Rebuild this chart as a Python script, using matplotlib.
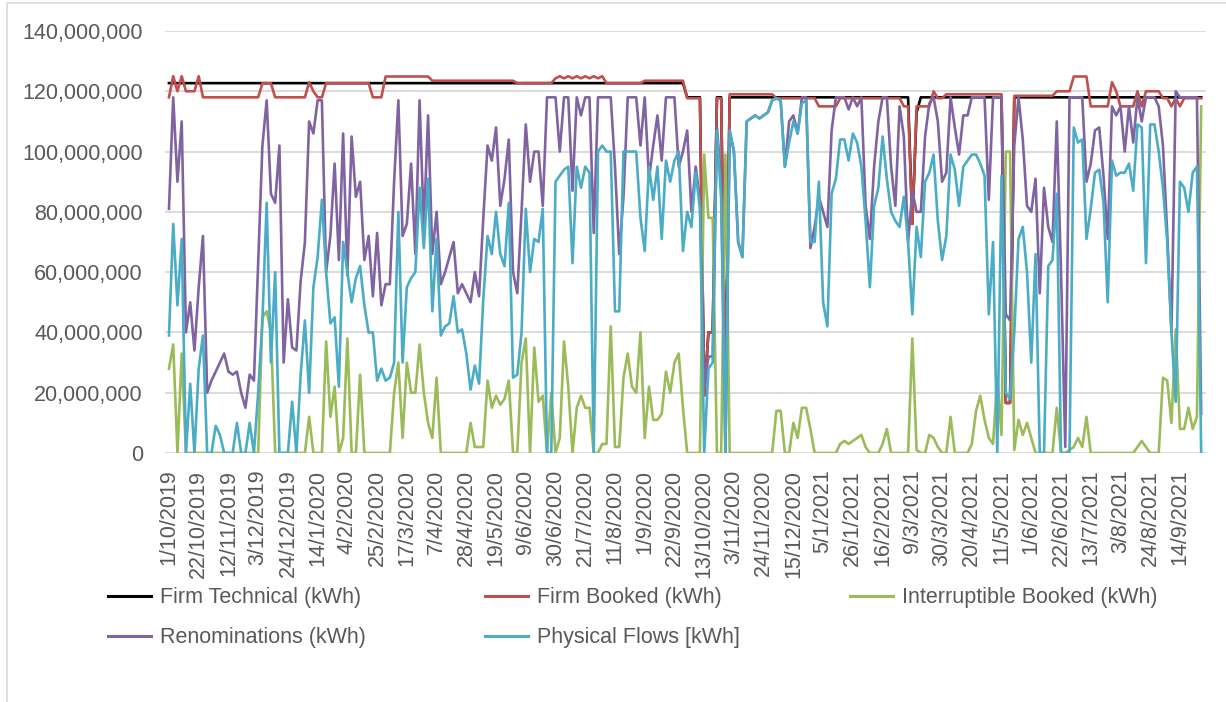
import numpy as np
import pandas as pd
import matplotlib
matplotlib.use("Agg")
import matplotlib.pyplot as plt
from matplotlib.lines import Line2D
from matplotlib.patches import Rectangle
from matplotlib.ticker import FuncFormatter

plt.rcParams['font.family'] = ['Liberation Sans', 'DejaVu Sans']

start = "2019-10-01"

renominations = [
    81, 118, 90, 110, 40, 50, 34, 55, 72, 20,
    24, 27, 30, 33, 27, 26, 27, 20, 15, 26,
    24, 63, 102, 117, 86, 83, 102, 30, 51, 35,
    34, 57, 70, 110, 106, 117, 117, 60, 72, 96,
    64, 106, 59, 105, 85, 90, 64, 72, 52, 73,
    49, 56, 56, 90, 117, 72, 76, 96, 66, 117,
    75, 112, 66, 80, 56, 60, 65, 70, 53, 56,
    53, 50, 60, 52, 78, 102, 97, 108, 82, 91,
    104, 60, 53, 80, 109, 90, 100, 100, 82, 118,
    118, 118, 100, 118, 118, 87, 118, 112, 118, 118,
    73, 118, 118, 118, 118, 95, 66, 85, 118, 118,
    118, 102, 118, 91, 102, 112, 97, 118, 118, 118,
    95, 100, 107, 80, 95, 84, 22, 32, 32, 108,
    90, 0, 107, 100, 70, 65, 110, 111, 112, 111,
    112, 113, 117, 117.7, 117, 95, 110, 112, 106, 118,
    118, 68, 75, 85, 80, 75, 107, 118, 118, 118,
    114, 118, 115, 118, 82, 71, 95, 110, 118, 118,
    95, 82, 115, 105, 70, 87, 80, 80, 105, 116,
    118, 110, 90, 93, 118, 108, 99, 112, 112, 118,
    118, 118, 118, 84, 118, 118, 118, 46, 44, 102,
    118, 104, 82, 80, 91, 53, 88, 75, 70, 110,
    60, 2, 118, 118, 118, 118, 90, 96, 107, 108,
    92, 71, 115, 112, 115, 100, 115, 103, 118, 110,
    118, 118, 118, 115, 102, 73, 40, 120, 118, 118,
    118, 118, 118, 13]

flows = [
    39, 76, 49, 71, 0, 23, 0, 28, 39, 0,
    0, 9, 6, 0, 0, 0, 10, 0, 0, 10,
    0, 20, 44, 83, 30, 60, 0, 0, 0, 17,
    0, 26, 44, 20, 55, 65, 84, 60, 43, 45,
    22, 70, 60, 50, 58, 62, 49, 40, 40, 24,
    28, 24, 25, 30, 80, 30, 55, 58, 60, 88,
    68, 91, 47, 71, 39, 42, 43, 52, 40, 41,
    33, 21, 29, 23, 51, 72, 66, 80, 66, 62,
    83, 25, 26, 40, 81, 60, 71, 70, 81, 0,
    0, 90, 92, 94, 95, 63, 95, 88, 95, 93,
    0, 100, 102, 100, 100, 47, 47, 100, 100, 100,
    100, 78, 67, 95, 84, 95, 71, 97, 90, 97,
    100, 67, 80, 75, 93, 81, 0, 28, 30, 107,
    84, 0, 107, 100, 70, 65, 110, 111, 112, 111,
    112, 113, 117, 117.7, 117, 95, 103, 110, 106, 116,
    117, 70, 70, 90, 50, 42, 86, 91, 104, 104,
    97, 106, 103, 95, 77, 55, 82, 88, 105, 91,
    80, 77, 75, 85, 70, 46, 75, 65, 90, 93,
    99, 77, 64, 72, 99, 94, 82, 95, 97, 99,
    99, 96, 92, 46, 70, 0, 92, 20, 18, 40,
    71, 75, 60, 30, 66, 0, 0, 62, 64, 86,
    0, 0, 0, 108, 103, 104, 71, 81, 93, 94,
    83, 50, 97, 92, 93, 93, 96, 87, 109, 108,
    63, 109, 109, 100, 88, 70, 40, 17, 90, 88,
    80, 93, 95, 0]

interruptible = [
    28, 36, 0, 33, 0, 0, 0, 0, 0, 0,
    0, 0, 0, 0, 0, 0, 0, 0, 0, 0,
    0, 0, 45, 47, 40, 0, 0, 0, 0, 0,
    0, 0, 0, 12, 0, 0, 0, 37, 12, 22,
    0, 5, 38, 0, 0, 26, 0, 0, 0, 0,
    0, 0, 0, 20, 30, 5, 30, 20, 20, 36,
    20, 10, 5, 25, 0, 0, 0, 0, 0, 0,
    0, 10, 2, 2, 2, 24, 15, 19, 16, 18,
    24, 0, 0, 30, 38, 0, 35, 17, 19, 0,
    20, 0, 5, 37, 22, 0, 15, 19, 15, 15,
    0, 0, 3, 3, 42, 2, 2, 25, 33, 22,
    20, 40, 5, 22, 11, 11, 13, 27, 20, 30,
    33, 15, 0, 0, 0, 0, 99, 78, 78, 0,
    0, 99, 0, 0, 0, 0, 0, 0, 0, 0,
    0, 0, 0, 14, 14, 0, 0, 10, 5, 15,
    15, 8, 0, 0, 0, 0, 0, 0, 3, 4,
    3, 4, 5, 6, 2, 0, 0, 0, 3, 8,
    0, 0, 0, 0, 0, 38, 1, 0, 0, 6,
    5, 2, 0, 0, 12, 0, 0, 0, 0, 3,
    14, 19, 11, 5, 3, 25, 6, 100, 100, 1,
    11, 6, 10, 5, 0, 0, 0, 0, 0, 15,
    0, 0, 1, 2, 5, 2, 12, 0, 0, 0,
    0, 0, 0, 0, 0, 0, 0, 0, 2, 4,
    2, 0, 0, 0, 25, 24, 10, 41, 8, 8,
    15, 8, 12, 115]

# flat capacity series as (number of points, value) runs
booked_runs = [(1, 118), (1, 125), (1, 120), (1, 125), (3, 120), (1, 125), (14, 118),
               (3, 122.7), (8, 118), (1, 123), (1, 120), (2, 118), (11, 122.7), (3, 118),
               (11, 124.9), (20, 123.5), (9, 122.7),
               (1, 124.3), (1, 125), (1, 124.3), (1, 125), (1, 124.3), (1, 125),
               (1, 124.3), (1, 125), (1, 124.3), (1, 125), (1, 124.3), (1, 125),
               (9, 122.7), (10, 123.5), (4, 117.7), (1, 19), (2, 40), (2, 117.7), (1, 19),
               (11, 119), (10, 117.7), (5, 115), (15, 117.7), (2, 115), (1, 76), (4, 115),
               (1, 120), (2, 117.7), (14, 119), (2, 16.6), (10, 118.5), (4, 120),
               (4, 124.9), (5, 115), (1, 123), (1, 120), (4, 115), (1, 120), (1, 115),
               (4, 120), (2, 117.7), (1, 115), (1, 117.7), (1, 115), (5, 117.7)]

technical_runs = [(122, 122.7), (4, 118), (1, 19), (2, 40), (2, 118), (1, 19), (43, 118),
                  (1, 76), (1, 113), (20, 118), (2, 16.6), (45, 118)]


def expand(runs):
    out = []
    for n, v in runs:
        out += [v] * n
    return out


technical = expand(technical_runs)
booked = expand(booked_runs)
print(len(renominations), len(flows), len(interruptible), len(booked), len(technical))

dates = pd.date_range(start, periods=len(renominations), freq="3D")
tick_dates = pd.date_range("2019-10-01", "2021-09-14", freq="21D")

series = [
    ("Firm Technical (kWh)", technical, "#000000"),
    ("Firm Booked (kWh)", booked, "#C0504D"),
    ("Interruptible Booked (kWh)", interruptible, "#9BBB59"),
    ("Renominations (kWh)", renominations, "#8064A2"),
    ("Physical Flows [kWh]", flows, "#4BACC6"),
]

fig = plt.figure(figsize=(12.26, 7.02), dpi=100)
ax = fig.add_axes([165 / 1226, 1 - 453 / 702, 1041 / 1226, 422 / 702])

handles = []
for name, vals, col in series:
    ax.plot(dates, np.array(vals) * 1e6, color=col, lw=1.9, solid_joinstyle='round')
    handles.append(Line2D([], [], color=col, lw=2.2, label=name))

ax.set_ylim(0, 140e6)
ax.set_yticks(np.arange(0, 140e6 + 1, 20e6))
ax.yaxis.set_major_formatter(FuncFormatter(lambda v, p: f"{v:,.0f}"))
ax.set_xlim(dates[0] - pd.Timedelta(days=2.8), dates[0] + pd.Timedelta(days=732.4))
ax.set_xticks(tick_dates)
ax.set_xticklabels([f"{d.day}/{d.month}/{d.year}" for d in tick_dates], rotation=90)

ax.tick_params(axis='both', length=0, labelsize=15.5, colors='#595959')
ax.tick_params(axis='y', pad=16)
ax.tick_params(axis='x', pad=12)
for s in ax.spines.values():
    s.set_visible(False)
ax.yaxis.grid(True, color='#D9D9D9', lw=1.3)
ax.set_axisbelow(True)

# legend, one entry per slot (3 columns, 2 rows)
slots = [(108, 598), (485, 598), (850, 598), (108, 638), (485, 638)]
for h, (px, py) in zip(handles, slots):
    lg = fig.legend(handles=[h], loc='center left', bbox_to_anchor=(px / 1226, 1 - py / 702),
                    frameon=False, fontsize=15.5, handlelength=2.0, handletextpad=0.4,
                    borderpad=0, borderaxespad=0, labelcolor='#595959')

fig.patches.append(Rectangle((7 / 1226, -0.01), 1.2, 1 - 3 / 702 + 0.01,
                             transform=fig.transFigure, fill=False,
                             edgecolor='#D9D9D9', lw=1.2))

fig.savefig("out.png", dpi=100)
